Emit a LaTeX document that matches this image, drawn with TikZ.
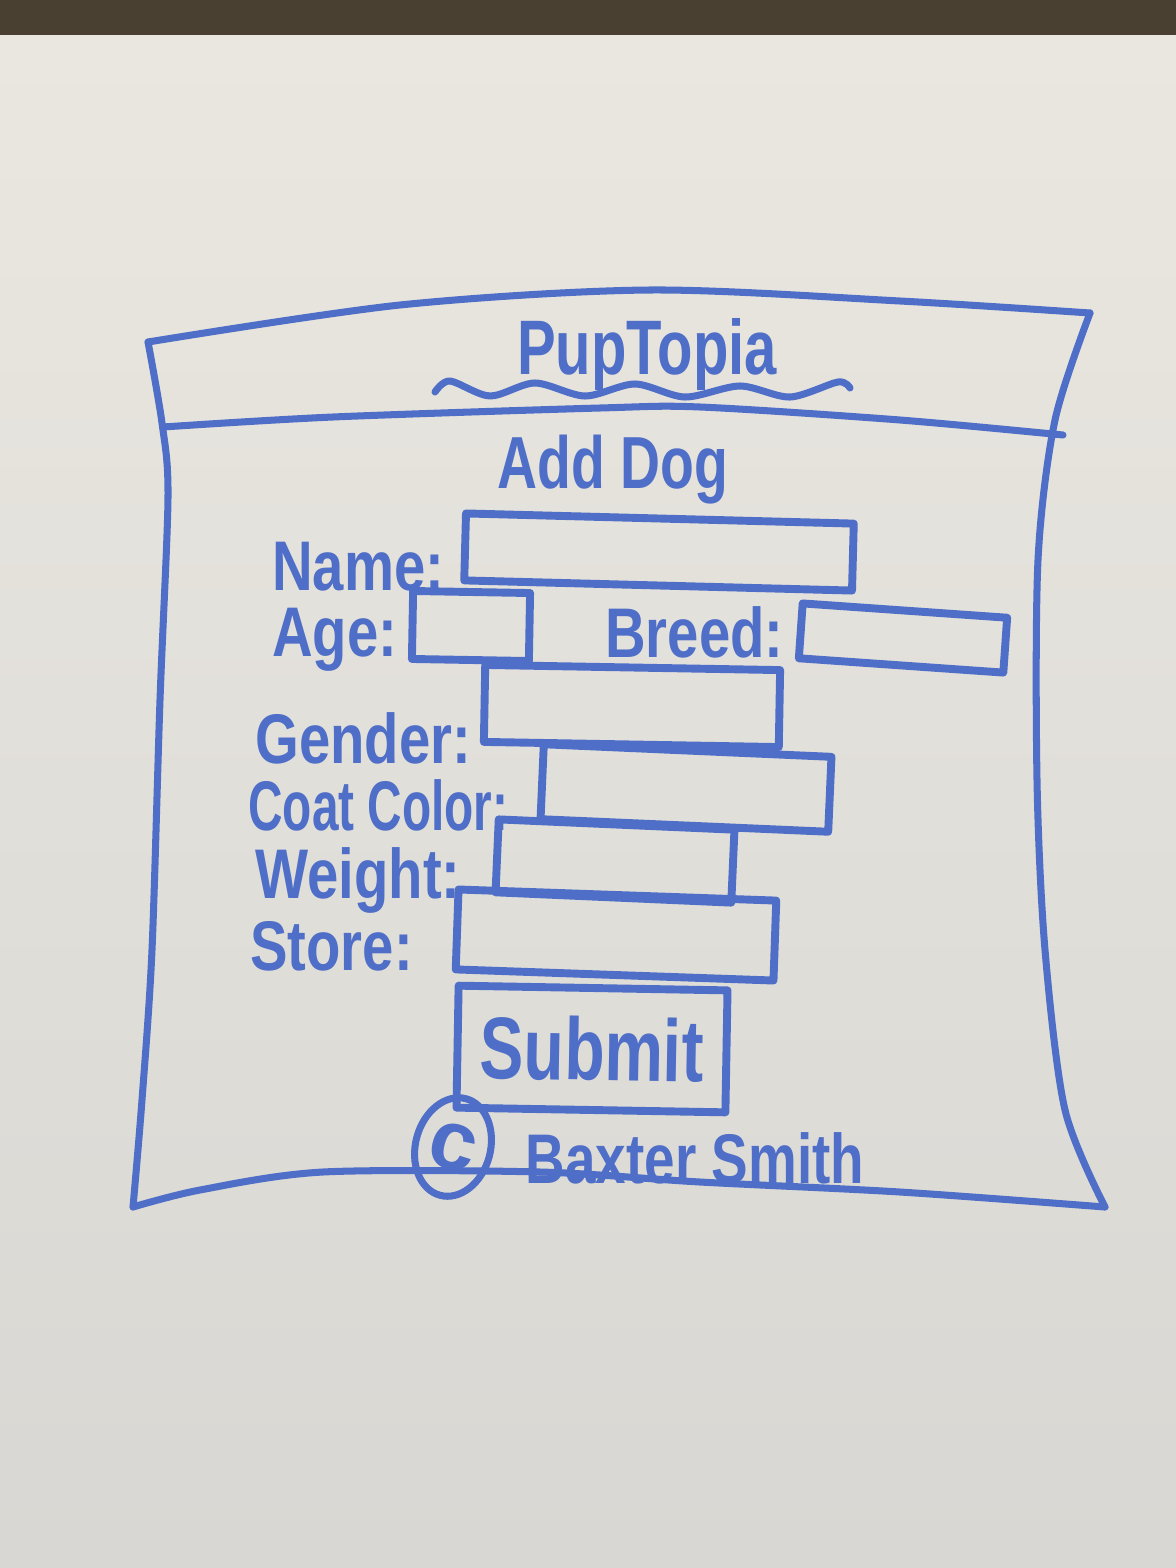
\documentclass[tikz,border=0pt]{standalone}
\usepackage{fontspec}
\setmainfont{Liberation Sans}
\usetikzlibrary{shapes.geometric}
\definecolor{marker}{RGB}{78,110,200}
\definecolor{board}{RGB}{234,231,224}
\definecolor{boardlow}{RGB}{216,215,211}
\definecolor{wood}{RGB}{74,64,50}
\newcommand{\hand}[2][0.8]{\scalebox{#1}[1]{#2}}

\begin{document}
\begin{tikzpicture}[x=0.02cm, y=-0.02cm, line cap=round, line join=round]
    \tikzstyle{pen} = [draw=marker, line width=4pt]
    \tikzstyle{field} = [draw=marker, line width=4.5pt, rectangle, inner sep=0pt]
    \tikzstyle{lbl} = [text=marker, font=\fontsize{40}{40}\selectfont\bfseries, inner sep=0pt, anchor=base west]
    \tikzstyle{heading} = [text=marker, inner sep=0pt, anchor=base]

    \useasboundingbox (0,0) rectangle (1176,1568);
    \shade[top color=board, bottom color=boardlow] (0,35) rectangle (1176,1568);
    \fill[wood] (0,0) rectangle (1176,35);

    % page frame
    \draw[pen] plot[smooth] coordinates {(148,342) (400,305) (650,290) (900,301) (1090,313)};
    \draw[pen] plot[smooth] coordinates {(1090,313) (1055,420) (1038,560) (1037,780) (1045,950) (1065,1110) (1105,1207)};
    \draw[pen] plot[smooth] coordinates {(133,1207) (200,1190) (323,1172) (540,1172) (700,1182) (900,1192) (1105,1207)};
    \draw[pen] plot[smooth] coordinates {(148,342) (162,423) (168,497) (160,700) (152,950) (142,1100) (133,1207)};
    \draw[pen] plot[smooth] coordinates {(163,427) (333,417) (600,408) (700,407) (900,420) (1063,435)};

    \node[heading, font=\fontsize{44}{44}\selectfont\bfseries] (title) at (647,374) {\hand[0.75]{PupTopia}};
    \draw[pen] plot[smooth] coordinates {(435,392) (450,381) (490,396) (535,383) (585,396) (635,384) (685,397) (740,386) (790,397) (838,382) (850,388)};
    \node[heading, font=\fontsize{42}{42}\selectfont\bfseries] (adddog) at (613,488) {\hand[0.75]{Add Dog}};

    \node[lbl] (namelbl) at (272,590) {\hand{Name:}};
    \node[field, minimum width=7.76cm, minimum height=1.34cm, rotate=-1.5] (namebox) at (659,552) {};
    \node[lbl] (agelbl) at (272,656) {\hand{Age:}};
    \node[field, minimum width=2.34cm, minimum height=1.36cm, rotate=-1] (agebox) at (471,626) {};
    \node[lbl] (breedlbl) at (605,657) {\hand{Breed:}};
    \node[field, minimum width=4.1cm, minimum height=1.1cm, rotate=-4] (breedbox) at (903,638) {};
    \node[lbl] (genderlbl) at (255,763) {\hand{Gender:}};
    \node[field, minimum width=5.9cm, minimum height=1.54cm, rotate=-1] (genderbox) at (632,706) {};
    \node[lbl] (coatlbl) at (248,830) {\hand[0.68]{Coat Color:}};
    \node[field, minimum width=5.76cm, minimum height=1.5cm, rotate=-2.5] (coatbox) at (686,788) {};
    \node[lbl] (weightlbl) at (255,898) {\hand{Weight:}};
    \node[field, minimum width=4.72cm, minimum height=1.46cm, rotate=-2.5] (weightbox) at (615,861) {};
    \node[lbl] (storelbl) at (250,970) {\hand{Store:}};
    \node[field, minimum width=6.36cm, minimum height=1.6cm, rotate=-2] (storebox) at (616,935) {};

    \node[field, text=marker, font=\fontsize{50}{50}\selectfont\bfseries, minimum width=5.38cm, minimum height=2.44cm, rotate=-1] (submit) at (592,1049) {\hand[0.75]{Submit}};

    \node[pen, ellipse, inner sep=0pt, minimum width=1.5cm, minimum height=2cm, rotate=-15, text=marker, font=\fontsize{48}{48}\selectfont\bfseries] (copyright) at (453,1147) {c};
    \node[heading, font=\fontsize{40}{40}\selectfont\bfseries] (author) at (695,1183) {\hand[0.78]{Baxter Smith}};
\end{tikzpicture}
\end{document}
